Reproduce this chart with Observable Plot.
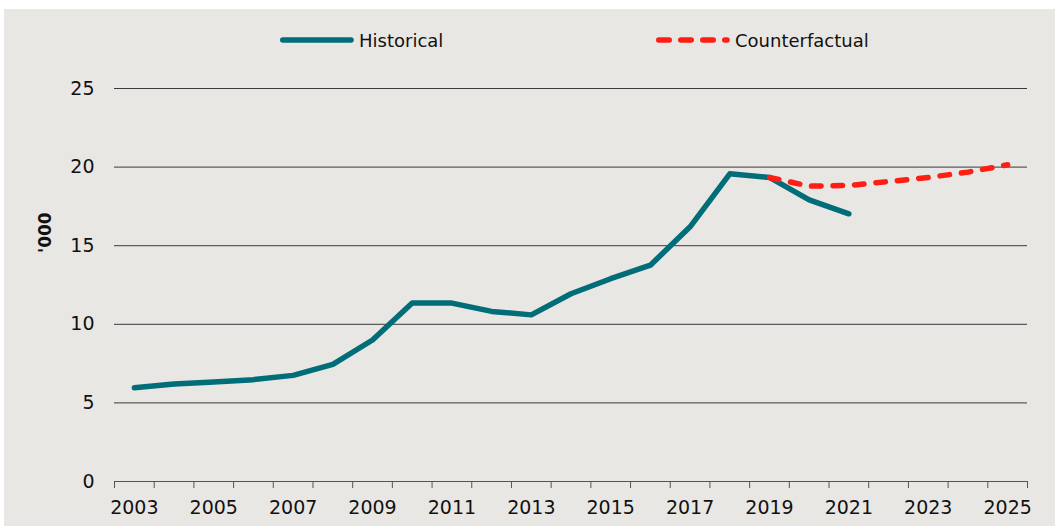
<!DOCTYPE html>
<html>
<head>
<meta charset="utf-8">
<script src="https://cdn.jsdelivr.net/npm/d3@7"></script>
<script src="https://cdn.jsdelivr.net/npm/@observablehq/plot@0.6"></script>
<style>
  html, body { margin: 0; padding: 0; background: #ffffff; }
  #wrap { position: absolute; left: 4px; top: 9px; width: 1051px; height: 517px; background: #E9E7E3; overflow: hidden;
          font-family: "DejaVu Sans", sans-serif; color: #111; }
  .item { position: absolute; top: 19px; display: flex; align-items: center; font-size: 18px; height: 24px; }
  .item svg { display: block; margin-right: 5px; }
  #chart { position: absolute; left: 0; top: 60px; }
</style>
</head>
<body>
<div id="wrap">
  <div id="legend"></div>
  <div id="chart"></div>
</div>
<script>
// ---- data ----
const histYears  = [2003, 2004, 2005, 2006, 2007, 2008, 2009, 2010, 2011, 2012, 2013, 2014, 2015, 2016, 2017, 2018, 2019, 2020, 2021];
const histValues = [5.97, 6.2, 6.33, 6.48, 6.75, 7.45, 9.0, 11.35, 11.35, 10.82, 10.6, 11.94, 12.9, 13.76, 16.2, 19.57, 19.34, 17.92, 17.03];
const cfYears    = [2019, 2020, 2021, 2022, 2023, 2024, 2025];
const cfValues   = [19.34, 18.79, 18.83, 19.08, 19.34, 19.68, 20.15];
const allYears   = [2003, 2004, 2005, 2006, 2007, 2008, 2009, 2010, 2011, 2012, 2013, 2014, 2015, 2016, 2017, 2018, 2019, 2020, 2021, 2022, 2023, 2024, 2025];
const xLabelYears = [2003, 2005, 2007, 2009, 2011, 2013, 2015, 2017, 2019, 2021, 2023, 2025];
const yTicks     = [0, 5, 10, 15, 20, 25];
const seriesNames = ["Historical", "Counterfactual"];
const yTitle     = "'000";

const teal = "#006D78";
const red  = "#FF1E14";
const dash = "9.5,12";

const hist = histYears.map((y, i) => ({year: y, value: histValues[i]}));
const cf   = cfYears.map((y, i) => ({year: y, value: cfValues[i]}));
const boundaries = [allYears[0] - 0.5, ...allYears.map(y => y + 0.5)];

// ---- legend ----
const legend = document.getElementById("legend");
const legendDefs = [
  {name: seriesNames[0], color: teal, dash: null, left: 276},
  {name: seriesNames[1], color: red, dash: "10.5,11.5", left: 652}
];
for (const d of legendDefs) {
  const it = document.createElement("div");
  it.className = "item";
  it.style.left = d.left + "px";
  it.innerHTML = `<svg width="74" height="12"><line x1="2.75" y1="6" x2="71" y2="6" stroke="${d.color}" stroke-width="5.5" stroke-linecap="round" ${d.dash ? `stroke-dasharray="${d.dash}"` : ""}/></svg><span>${d.name}</span>`;
  legend.appendChild(it);
}

// ---- chart ----
const chart = Plot.plot({
  width: 1051,
  height: 457,
  marginLeft: 110,
  marginRight: 28,
  marginTop: 19,
  marginBottom: 45,
  style: {background: "transparent", fontFamily: "DejaVu Sans, sans-serif", fontSize: "19px", color: "#111", overflow: "visible"},
  x: {domain: [allYears[0] - 0.5, allYears[allYears.length - 1] + 0.5], axis: null},
  y: {domain: [0, 25], axis: null},
  marks: [
    Plot.ruleY(yTicks.filter(v => v > 0), {stroke: "#3a3a3a", strokeWidth: 1}),
    Plot.ruleY([0], {stroke: "#555", strokeWidth: 1.2}),
    Plot.axisX(boundaries, {tickSize: 7, tickFormat: () => "", stroke: "#555", label: null}),
    Plot.axisX(xLabelYears, {tickSize: 0, tickPadding: 19, tickFormat: d => String(d), fontSize: 19, label: null}),
    Plot.axisY(yTicks, {tickSize: 0, tickPadding: 20, fontSize: 19, label: null}),
    Plot.text([yTitle], {frameAnchor: "left", rotate: -90, dx: -69, dy: -32, fontWeight: "bold", fontSize: 17, fill: "#111"}),
    Plot.line(hist, {x: "year", y: "value", stroke: teal, strokeWidth: 5.5, strokeLinecap: "round", strokeLinejoin: "round"}),
    Plot.line(cf, {x: "year", y: "value", stroke: red, strokeWidth: 5.5, strokeDasharray: dash, strokeLinecap: "round", strokeLinejoin: "round"})
  ]
});
document.getElementById("chart").appendChild(chart);
</script>
</body>
</html>
